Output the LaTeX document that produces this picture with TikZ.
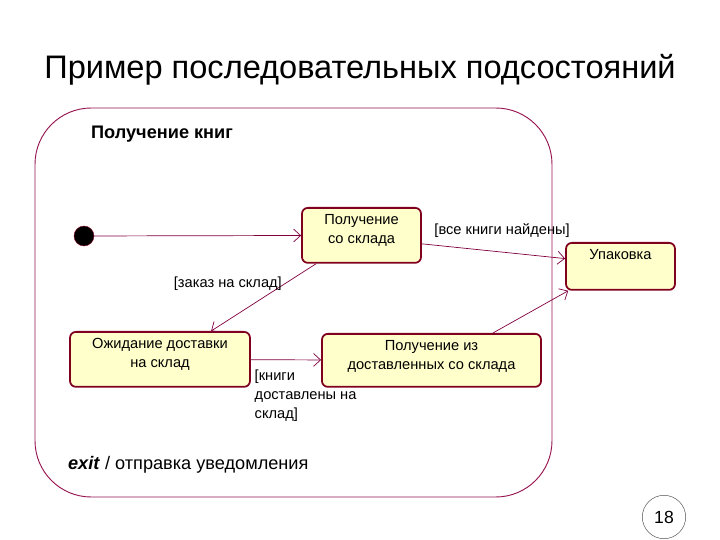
\documentclass[tikz,border=0pt]{standalone}
\usepackage{fontspec}
\setmainfont{Liberation Sans}
\usetikzlibrary{arrows.meta}
\definecolor{statefill}{RGB}{255,255,204}
\definecolor{stateline}{RGB}{128,0,32}
\definecolor{transline}{RGB}{128,0,64}
\definecolor{frameline}{RGB}{150,20,80}
\tikzset{
  state/.style={draw=stateline, line width=1.5pt, fill=statefill, rounded corners=5pt,
    align=center, font=\fontsize{12.5}{16}\selectfont, inner ysep=4pt, text height=10pt, anchor=north},
  twolines/.style={text height=26pt},
  trans/.style={draw=transline, line width=0.6pt, -{Straight Barb[length=6pt,width=11pt]}},
  guard/.style={font=\fontsize{12.5}{16.5}\selectfont, inner sep=3pt}
}
\newcommand{\drawstate}{\node[state]}
\newcommand{\drawinit}{\node[circle, fill=black, draw=stateline, minimum size=17pt, inner sep=0]}

\begin{document}
\begin{tikzpicture}[x=0.03cm, y=-0.03cm]
\useasboundingbox (0,0) rectangle (720,540);
\node (title) at (360,70) {\fontsize{27.8}{32}\selectfont Пример последовательных подсостояний};
%composite state
\draw[frameline, line width=0.8pt, rounded corners=48pt] (35,108) rectangle (552,497);
\node[anchor=west, font=\fontsize{15.5}{18}\selectfont\bfseries] (compname) at (87,134) {Получение книг};
\node[anchor=west, font=\fontsize{15.5}{18}\selectfont] (exitact) at (64,465) {\textbf{\textit{exit}} / отправка уведомления};

\drawinit (init) at (84,236) {};
\drawstate[twolines, minimum width=101.6pt, text depth=12.9pt] (recv) at (361.5,207) {Получение\\со склада};
\drawstate[minimum width=93pt, text depth=22.1pt] (pack) at (620.5,242) {Упаковка};
\drawstate[twolines, minimum width=153.6pt, text depth=12.9pt] (wait) at (160,331) {Ожидание доставки\\на склад};
\drawstate[twolines, minimum width=187pt, text depth=11.2pt] (deliv) at (431.5,333) {Получение из\\доставленных со склада};

\draw[trans] (init) -- (recv);
\draw[trans] (recv.-8) -- node[guard, pos=0.56, above=9pt] {[все книги найдены]} (pack.172);
\draw[trans] (recv.212) -- node[guard, pos=0.29, left] {[заказ на склад]} (wait.29);
\draw[trans] (wait) -- node[guard, pos=0, anchor=north west, yshift=-5pt, align=left] {[книги\\доставлены на\\склад]} (deliv);
\draw[trans] (deliv.24) -- (pack.205);

\node[circle, draw=black!70, minimum size=37pt, font=\fontsize{15}{18}\selectfont] (page) at (664,517) {18};
\end{tikzpicture}
\end{document}
